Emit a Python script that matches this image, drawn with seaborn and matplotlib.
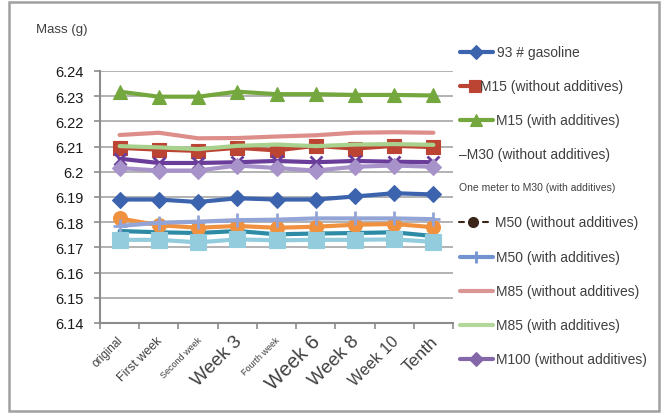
import matplotlib
matplotlib.use("Agg")
import matplotlib.pyplot as plt
from matplotlib.lines import Line2D
from matplotlib.ticker import FuncFormatter
import numpy as np
import pandas as pd
import seaborn as sns

# ---- data -------------------------------------------------------------
categories = ["original", "First week", "Second week", "Week 3", "Fourth week",
              "Week 6", "Week 8", "Week 10", "Tenth"]
category_sizes = [8.5, 9, 6.5, 13.5, 6.5, 14.5, 13.5, 11.5, 12.5]

gasoline_93 = [6.1890, 6.1890, 6.1880, 6.1895, 6.1890, 6.1890, 6.1902, 6.1915, 6.1910]
m15_plain = [6.2095, 6.2088, 6.2083, 6.2095, 6.2085, 6.2103, 6.2092, 6.2103, 6.2098]
m15_additive = [6.2318, 6.2298, 6.2298, 6.2318, 6.2308, 6.2308, 6.2305, 6.2305, 6.2303]
m30_plain = [6.2052, 6.2035, 6.2035, 6.2038, 6.2043, 6.2038, 6.2043, 6.2040, 6.2038]
m30_additive = [6.1765, 6.1760, 6.1757, 6.1765, 6.1752, 6.1755, 6.1757, 6.1760, 6.1745]
m50_plain = [6.1815, 6.1788, 6.1778, 6.1785, 6.1778, 6.1782, 6.1790, 6.1793, 6.1780]
m50_additive = [6.1785, 6.1798, 6.1802, 6.1808, 6.1810, 6.1815, 6.1815, 6.1815, 6.1812]
m85_plain = [6.2146, 6.2155, 6.2133, 6.2134, 6.2140, 6.2145, 6.2155, 6.2157, 6.2155]
m85_additive = [6.2102, 6.2097, 6.2090, 6.2103, 6.2108, 6.2102, 6.2108, 6.2110, 6.2107]
m100_plain = [6.2015, 6.2005, 6.2005, 6.2025, 6.2015, 6.2005, 6.2020, 6.2025, 6.2020]
m100_additive = [6.1730, 6.1730, 6.1720, 6.1732, 6.1728, 6.1730, 6.1730, 6.1732, 6.1722]

y_ticks = [6.14, 6.15, 6.16, 6.17, 6.18, 6.19, 6.20, 6.21, 6.22, 6.23, 6.24]

# (name, values, colour, marker, marker size)
series = [
    ("93 # gasoline", gasoline_93, "#3C64AE", "D", 8),
    ("M15 (without additives)", m15_plain, "#BC4433", "s", 10),
    ("M15 (with additives)", m15_additive, "#74A83E", "^", 10),
    ("M30 (without additives)", m30_plain, "#6A3D9A", "x", 9),
    ("M30 (with additives)", m30_additive, "#2E8BA6", None, 0),
    ("M50 (without additives)", m50_plain, "#F0913F", "o", 10),
    ("M50 (with additives)", m50_additive, "#93A4D6", "+", 10),
    ("M85 (without additives)", m85_plain, "#DE8E8A", None, 0),
    ("M85 (with additives)", m85_additive, "#A9D18E", None, 0),
    ("M100 (without additives)", m100_plain, "#A793C9", "D", 8),
    ("M100 (with additives)", m100_additive, "#93CDDD", "s", 11),
]

# ---- style ------------------------------------------------------------
sns.set_style("white")
plt.rcParams["font.family"] = ["Liberation Sans", "DejaVu Sans"]

fig = plt.figure(figsize=(6.61, 4.14), dpi=100)
W, H = 661, 414
ax = fig.add_axes([100 / W, 1 - 324 / H, 353 / W, 252 / H])

x = np.arange(len(categories))
for name, vals, color, marker, ms in series:
    df = pd.DataFrame({"period": x, "mass": vals})
    sns.lineplot(data=df, x="period", y="mass", ax=ax, color=color,
                 linewidth=3, marker=marker, markersize=ms,
                 markeredgecolor=color, markeredgewidth=2 if marker in ("x", "+") else 0.8,
                 legend=False)

ax.set_xlim(-0.5, len(categories) - 0.5)
ax.set_ylim(6.14, 6.24)
ax.set_yticks(y_ticks)
ax.yaxis.set_major_formatter(FuncFormatter(lambda v, p: f"{v:.2f}".rstrip("0")))
ax.grid(axis="y", color="#A6A6A6", linewidth=1.2)
ax.set_axisbelow(True)
ax.set_xlabel("")
ax.set_ylabel("")

for side in ("top", "right"):
    ax.spines[side].set_visible(False)
for side in ("left", "bottom"):
    ax.spines[side].set_color("#8C8C8C")
    ax.spines[side].set_linewidth(1.5)

# category boundaries carry the tick marks, labels sit at the centres
ax.set_xticks(np.arange(len(categories) + 1) - 0.5)
ax.set_xticklabels([])
ax.tick_params(axis="x", which="major", direction="out", length=4, width=1.2,
               color="#8C8C8C", bottom=True)
ax.set_xticks(x + 0.05, minor=True)
ax.set_xticklabels(categories, minor=True, rotation=45, ha="right",
                   rotation_mode="anchor", va="center", color="#404040")
ax.tick_params(axis="x", which="minor", length=0, pad=11)
for lbl, sz in zip(ax.get_xticklabels(minor=True), category_sizes):
    lbl.set_fontsize(sz)

ax.tick_params(axis="y", direction="out", length=4, width=1.2, color="#8C8C8C",
               left=True, labelsize=10.5, labelcolor="#1A1A1A", pad=8)

fig.text(36 / W, 1 - 30 / H, "Mass (g)", fontsize=9.5, color="#404040",
         va="center", ha="left")

# ---- legend -------------------------------------------------------------
def fx(px):
    return px / W

def fy(py):
    return 1 - py / H

def handle(y, color, x0=460, x1=493, marker=None, mx=476, ms=8, ls="-", lw=3):
    fig.add_artist(Line2D([fx(x0), fx(x1)], [fy(y), fy(y)], color=color,
                          linewidth=lw, linestyle=ls, transform=fig.transFigure))
    if marker:
        fig.add_artist(Line2D([fx(mx)], [fy(y)], color=color, marker=marker,
                              markersize=ms, markeredgewidth=2 if marker == "+" else 0.8,
                              markeredgecolor=color, linestyle="none",
                              transform=fig.transFigure))

def label(y, text, x0=497, size=10):
    fig.text(fx(x0), fy(y), text, fontsize=size, color="#404040",
             va="center", ha="left")

handle(53, "#3C64AE", marker="D", ms=7)
label(53, "93 # gasoline")
handle(87, "#BC4433", x1=478, marker="s", mx=475, ms=8)
label(87, "M15 (without additives)", x0=480)
handle(121, "#74A83E", marker="^", ms=9)
label(121, "M15 (with additives)", x0=496)
label(155, "\u2013M30 (without additives)", x0=459)
label(188, "One meter to M30 (with additives)", x0=459, size=7.5)
fig.add_artist(Line2D([fx(459), fx(464)], [fy(223), fy(223)], color="#3B2418",
                      linewidth=1.5, transform=fig.transFigure))
fig.add_artist(Line2D([fx(483), fx(488)], [fy(223), fy(223)], color="#3B2418",
                      linewidth=1.5, transform=fig.transFigure))
fig.add_artist(Line2D([fx(473)], [fy(223)], color="#3B2418", marker="o",
                      markersize=7, linestyle="none", transform=fig.transFigure))
label(223, "M50 (without additives)", x0=495)
handle(258, "#7392D0", marker="+", ms=9)
label(258, "M50 (with additives)", x0=496)
handle(292, "#D99694")
label(292, "M85 (without additives)", x0=496)
handle(326, "#B3D69A")
label(326, "M85 (with additives)", x0=496)
handle(360, "#8467A8", marker="D", ms=7)
label(360, "M100 (without additives)", x0=496)

# outer frame of the chart area
fig.add_artist(plt.Rectangle((fx(9), fy(412)), fx(650), (412 - 3) / H,
                             fill=False, edgecolor="#A0A0A0", linewidth=1.8,
                             transform=fig.transFigure))

fig.savefig("out.png", dpi=100)
